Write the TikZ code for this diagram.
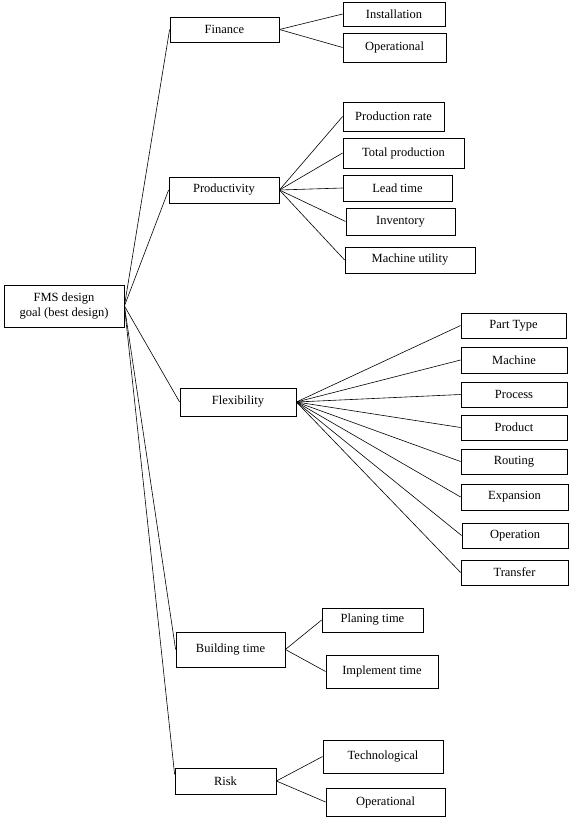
\documentclass[tikz,border=0pt]{standalone}
\usepackage{fontspec}
\setmainfont{Liberation Serif}
\usetikzlibrary{calc}
\begin{document}
\begin{tikzpicture}[x=1pt,y=-1pt,
  box/.style={draw, line width=0.8pt, inner sep=0pt, align=center,
    font=\fontsize{12.5}{15}\selectfont},
  link/.style={draw, line width=0.6pt}]
\useasboundingbox (0,0) rectangle (574,819);
% root
\node[box, minimum width=120pt, minimum height=42pt] (root) at (64,306) {FMS design\\goal (best design)};
% categories
\node[box, minimum width=109pt, minimum height=25pt] (fin) at (224.5,29.5) {Finance};
\node[box, minimum width=110pt, minimum height=26pt] (prod) at (224,190) {Productivity};
\node[box, minimum width=116pt, minimum height=28pt] (flex) at (238,402) {Flexibility};
\node[box, minimum width=109pt, minimum height=35pt] (build) at (230.5,649.5) {Building time};
\node[box, minimum width=101pt, minimum height=26pt] (risk) at (225.5,781) {Risk};
% finance children
\node[box, minimum width=102pt, minimum height=24pt] (inst) at (394,14) {Installation};
\node[box, minimum width=103pt, minimum height=29pt] (opa) at (394.5,47.5) {Operational};
% productivity children
\node[box, minimum width=101pt, minimum height=29pt] (prate) at (393.5,116.5) {Production rate};
\node[box, minimum width=121pt, minimum height=30pt] (tprod) at (403.5,153) {Total production};
\node[box, minimum width=109pt, minimum height=26pt] (lead) at (397.5,188) {Lead time};
\node[box, minimum width=109pt, minimum height=27pt] (inv) at (400.5,221.5) {Inventory};
\node[box, minimum width=130pt, minimum height=26pt] (mutil) at (410,260) {Machine utility};
% flexibility children
\node[box, minimum width=105pt, minimum height=25pt] (part) at (513.5,325.5) {Part Type};
\node[box, minimum width=106pt, minimum height=26pt] (mach) at (514,360) {Machine};
\node[box, minimum width=106pt, minimum height=25pt] (proc) at (514,394.5) {Process};
\node[box, minimum width=106pt, minimum height=25pt] (prodt) at (514,427.5) {Product};
\node[box, minimum width=106pt, minimum height=25pt] (rout) at (514,461.5) {Routing};
\node[box, minimum width=107pt, minimum height=26pt] (expn) at (514.5,497) {Expansion};
\node[box, minimum width=106pt, minimum height=25pt] (oper) at (515,535.5) {Operation};
\node[box, minimum width=107pt, minimum height=25pt] (trans) at (514.5,572.5) {Transfer};
% building time children
\node[box, minimum width=101pt, minimum height=24pt] (plan) at (372.5,620) {Planing time};
\node[box, minimum width=112pt, minimum height=33pt] (impl) at (382,671.5) {Implement time};
% risk children
\node[box, minimum width=120pt, minimum height=33pt] (tech) at (383,756.5) {Technological};
\node[box, minimum width=119pt, minimum height=28pt] (opb) at (385.5,802) {Operational};
% root links
\foreach \c in {fin,prod,flex,build} \draw[link] (root.east) -- (\c.west);
\draw[link] (root.east) -- ($(risk.north west)!0.25!(risk.south west)$);
% finance links
\foreach \c in {inst,opa} \draw[link] (fin.east) -- (\c.west);
% productivity links
\foreach \c in {prate,tprod,lead,inv,mutil} \draw[link] (prod.east) -- (\c.west);
% flexibility links
\foreach \c in {part,mach,proc,prodt,rout,expn,oper,trans} \draw[link] (flex.east) -- (\c.west);
% building time links
\foreach \c in {plan,impl} \draw[link] (build.east) -- (\c.west);
% risk links
\foreach \c in {tech,opb} \draw[link] (risk.east) -- (\c.west);
\end{tikzpicture}
\end{document}
